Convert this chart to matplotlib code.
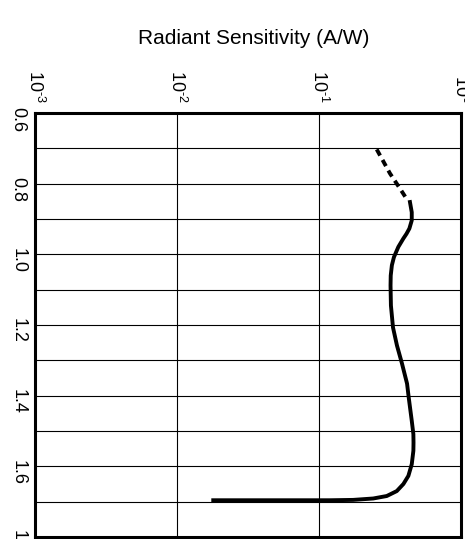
import numpy as np
import matplotlib
matplotlib.use("Agg")
import matplotlib.pyplot as plt
from matplotlib.ticker import FixedLocator, NullLocator

plt.rcParams["font.family"] = ["Liberation Sans", "DejaVu Sans"]
plt.rcParams["mathtext.fontset"] = "custom"
plt.rcParams["mathtext.rm"] = "Liberation Sans"

# 数据：波长 (µm) 与辐射灵敏度 (A/W)
dash_wl = [0.703, 0.771, 0.814, 0.847]
dash_s = [0.255, 0.316, 0.372, 0.420]

solid_wl = [0.852, 0.881, 0.904, 0.927, 0.942, 0.955, 0.979, 1.008, 1.031,
            1.060, 1.088, 1.145, 1.207, 1.258, 1.309, 1.366, 1.404, 1.471,
            1.509, 1.533, 1.556, 1.594, 1.627, 1.650, 1.670, 1.684, 1.691,
            1.695, 1.696, 1.696, 1.696, 1.696]
solid_s = [0.437, 0.450, 0.450, 0.433, 0.413, 0.393, 0.362, 0.337, 0.326,
           0.320, 0.319, 0.321, 0.332, 0.354, 0.384, 0.417, 0.428, 0.450,
           0.462, 0.463, 0.462, 0.450, 0.426, 0.393, 0.353, 0.300, 0.241,
           0.174, 0.119, 0.0735, 0.0385, 0.0180]

x_ticks = [1e-3, 1e-2, 1e-1, 1e0]
x_tick_labels = [r"$10^{\text{-}3}$", r"$10^{\text{-}2}$",
                 r"$10^{\text{-}1}$", r"$10^{0}$"]
y_ticks = [0.6, 0.8, 1.0, 1.2, 1.4, 1.6, 1.8]
y_grid = [0.6, 0.7, 0.8, 0.9, 1.0, 1.1, 1.2, 1.3, 1.4, 1.5, 1.6, 1.7, 1.8]


fig = plt.figure(figsize=(4.65, 5.39), dpi=100)
ax = fig.add_axes([35 / 465, 1 - 537 / 539, 426 / 465, 424 / 539])

ax.plot(dash_s, dash_wl, color="black", linewidth=2.8,
        dashes=(1.8, 1.3), solid_capstyle="butt")
ax.plot(solid_s, solid_wl, color="black", linewidth=2.8,
        solid_joinstyle="round")

# 坐标轴
ax.set_xscale("log")
ax.set_xlim(1e-3, 1e0)
ax.set_ylim(1.8, 0.6)

ax.xaxis.tick_top()
ax.xaxis.set_major_locator(FixedLocator(x_ticks))
ax.xaxis.set_minor_locator(NullLocator())
ax.set_xticklabels(x_tick_labels)

ax.yaxis.set_major_locator(FixedLocator(y_ticks))
ax.yaxis.set_minor_locator(FixedLocator(y_grid))
ax.set_yticklabels([f"{v:.1f}" for v in y_ticks])

ax.tick_params(axis="x", which="both", length=0, pad=7,
               labelsize=13, labelrotation=-90)
ax.tick_params(axis="y", which="both", length=0, pad=6,
               labelsize=13, labelrotation=-90)

ax.grid(True, which="major", axis="x", color="black", linewidth=0.8)
ax.grid(True, which="both", axis="y", color="black", linewidth=0.8)

for spine in ax.spines.values():
    spine.set_linewidth(2.2)

ax.xaxis.set_label_position("top")
ax.set_xlabel("Radiant Sensitivity (A/W)", fontsize=15, labelpad=19)
ax.xaxis.label.set_x(0.514)

ax.set_ylabel("Wavelength (µm)", fontsize=13, rotation=-90,
              ha="center", va="top", rotation_mode="anchor")
ax.yaxis.set_label_coords(-0.086, 0.5)

fig.savefig("out.png", dpi=100)
